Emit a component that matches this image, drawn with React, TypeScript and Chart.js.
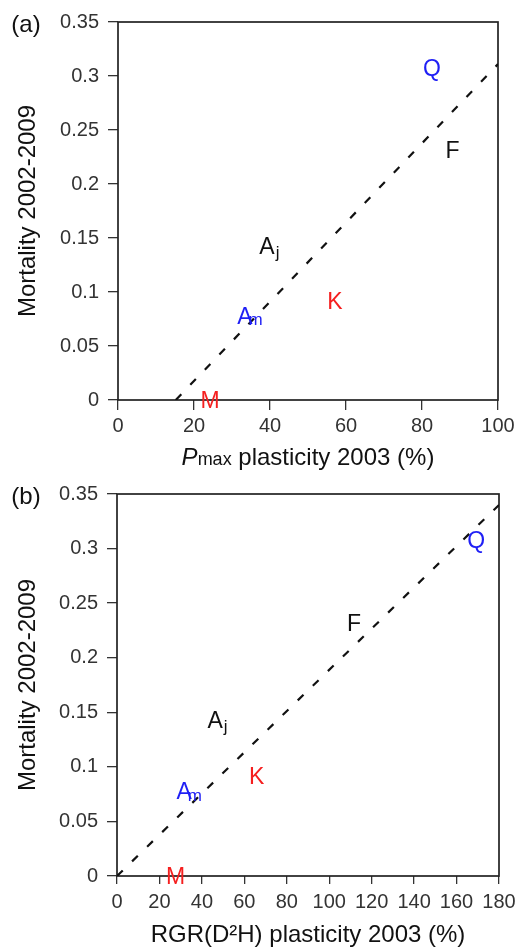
import React, { useEffect, useRef } from 'react';
import { Chart, registerables } from 'chart.js';

Chart.register(...registerables);

// ---- data ----
const speciesLabels = ['Q', 'F', 'Aj', 'Am', 'K', 'M'];
const speciesColors = ['#1f1ff5', '#111111', '#111111', '#1f1ff5', '#f51f1f', '#f51f1f'];
const mortality = [0.308, 0.232, 0.143, 0.078, 0.092, 0.0];
const pmaxPlasticity = [82.6, 88.0, 39.2, 33.4, 57.1, 24.2];
const rgrPlasticity = [169.2, 111.7, 46.2, 31.6, 65.8, 27.6];
const pmaxFitX = [15.2, 100];
const pmaxFitY = [0, 0.311];
const rgrFitX = [0, 180];
const rgrFitY = [0, 0.34];
const yTicks = [0, 0.05, 0.1, 0.15, 0.2, 0.25, 0.3, 0.35];
const pmaxTicks = [0, 20, 40, 60, 80, 100];
const rgrTicks = [0, 20, 40, 60, 80, 100, 120, 140, 160, 180];
const yTitle = 'Mortality 2002-2009';
const rgrTitle = 'RGR(D\u00B2H) plasticity 2003 (%)';
const pmaxTitleParts = ['P', 'max', ' plasticity 2003 (%)'];
const panelLetters = ['(a)', '(b)'];

const FONT = '"Liberation Sans", Arial, Helvetica, sans-serif';

type PanelCfg = {
  xValues: number[];
  fitX: number[];
  fitY: number[];
  xTicks: number[];
  xMax: number;
  letter: string;
  yWidth: number;
  xHeight: number;
  padTop: number;
  padRight: number;
  xTickLen: number;
  xTickPad: number;
  xTitle: string | null;
};

function drawLabel(ctx: CanvasRenderingContext2D, text: string, x: number, y: number, color: string) {
  const main = text[0];
  const sub = text.slice(1);
  ctx.fillStyle = color;
  ctx.textBaseline = 'alphabetic';
  ctx.font = `23px ${FONT}`;
  const w = ctx.measureText(main).width;
  const base = y + 8.2;
  if (!sub) {
    ctx.textAlign = 'center';
    ctx.fillText(main, x, base);
    return;
  }
  ctx.textAlign = 'left';
  ctx.fillText(main, x - w / 2, base);
  ctx.font = `17px ${FONT}`;
  if (sub === 'j') ctx.fillText(sub, x + w / 2 + 1, base + 4);
  else ctx.fillText(sub, x + w / 2 - 4, base + 1.5);
}

function makeConfig(cfg: PanelCfg): any {
  const points = cfg.xValues.map((x, i) => ({ x, y: mortality[i] }));
  const fit = cfg.fitX.map((x, i) => ({ x, y: cfg.fitY[i] }));

  const decorPlugin = {
    id: 'decor',
    beforeDatasetsDraw(chart: any) {
      const { ctx, chartArea } = chart;
      ctx.save();
      ctx.strokeStyle = '#222';
      ctx.lineWidth = 1.7;
      ctx.strokeRect(chartArea.left, chartArea.top, chartArea.right - chartArea.left, chartArea.bottom - chartArea.top);
      ctx.restore();
    },
    afterDatasetsDraw(chart: any) {
      const { ctx } = chart;
      const meta = chart.getDatasetMeta(0);
      ctx.save();
      meta.data.forEach((el: any, i: number) => {
        drawLabel(ctx, speciesLabels[i], el.x, el.y, speciesColors[i]);
      });
      ctx.restore();
    },
    afterDraw(chart: any) {
      const { ctx, chartArea } = chart;
      ctx.save();
      ctx.fillStyle = '#111';
      ctx.font = `24px ${FONT}`;
      ctx.textAlign = 'center';
      ctx.textBaseline = 'middle';
      ctx.fillText(cfg.letter, 26, chartArea.top + 3);
      if (!cfg.xTitle) {
        // Pmax title with italic P and small "max"
        const fonts = [`italic 24px ${FONT}`, `18px ${FONT}`, `24px ${FONT}`];
        const widths = pmaxTitleParts.map((t, i) => {
          ctx.font = fonts[i];
          return ctx.measureText(t).width;
        });
        const total = widths.reduce((a, b) => a + b, 0);
        let x = (chartArea.left + chartArea.right) / 2 - total / 2;
        const base = chart.height - 5;
        ctx.textAlign = 'left';
        ctx.textBaseline = 'alphabetic';
        pmaxTitleParts.forEach((t, i) => {
          ctx.font = fonts[i];
          ctx.fillText(t, x, base);
          x += widths[i];
        });
      }
      ctx.restore();
    },
  };

  return {
    type: 'scatter',
    data: {
      datasets: [
        {
          data: points,
          pointRadius: 0,
          pointHoverRadius: 0,
          showLine: false,
        },
        {
          data: fit,
          showLine: true,
          borderColor: '#111',
          borderWidth: 2.2,
          borderDash: [8, 13],
          pointRadius: 0,
          pointHoverRadius: 0,
          fill: false,
        },
      ],
    },
    options: {
      responsive: false,
      maintainAspectRatio: false,
      animation: false,
      devicePixelRatio: 1,
      events: [],
      layout: { padding: { top: cfg.padTop, right: cfg.padRight, left: 0, bottom: 0 } },
      plugins: { legend: { display: false }, tooltip: { enabled: false } },
      scales: {
        x: {
          type: 'linear',
          min: 0,
          max: cfg.xMax,
          afterBuildTicks: (s: any) => {
            s.ticks = cfg.xTicks.map((v) => ({ value: v }));
          },
          afterFit: (s: any) => {
            s.height = cfg.xHeight;
            s.paddingLeft = 0;
            s.paddingRight = 0;
          },
          ticks: {
            autoSkip: false,
            maxRotation: 0,
            minRotation: 0,
            padding: cfg.xTickPad,
            color: '#333',
            font: { family: FONT, size: 20 },
            callback: (v: any) => String(v),
          },
          grid: {
            drawOnChartArea: false,
            drawTicks: true,
            tickLength: cfg.xTickLen,
            color: '#333',
            lineWidth: 1.3,
          },
          border: { display: false },
          title: {
            display: !!cfg.xTitle,
            text: cfg.xTitle || '',
            color: '#111',
            font: { family: FONT, size: 24, lineHeight: 1 },
            padding: { top: 0, bottom: 1 },
          },
        },
        y: {
          type: 'linear',
          min: 0,
          max: 0.35,
          afterBuildTicks: (s: any) => {
            s.ticks = yTicks.map((v) => ({ value: v }));
          },
          afterFit: (s: any) => {
            s.width = cfg.yWidth;
            s.paddingTop = 0;
            s.paddingBottom = 0;
          },
          ticks: {
            autoSkip: false,
            padding: 9,
            color: '#333',
            font: { family: FONT, size: 20 },
            callback: (v: any) => String(v),
          },
          grid: {
            drawOnChartArea: false,
            drawTicks: true,
            tickLength: 10,
            color: '#333',
            lineWidth: 1.3,
          },
          border: { display: false },
          title: {
            display: true,
            text: yTitle,
            color: '#111',
            font: { family: FONT, size: 24, lineHeight: 1 },
            padding: { top: 16, bottom: 0 },
          },
        },
      },
    },
    plugins: [decorPlugin],
  };
}

function Panel({ cfg, height }: { cfg: PanelCfg; height: number }) {
  const ref = useRef<HTMLCanvasElement | null>(null);
  useEffect(() => {
    if (!ref.current) return;
    const chart = new Chart(ref.current, makeConfig(cfg));
    return () => chart.destroy();
  }, []);
  return <canvas ref={ref} width={520} height={height} style={{ display: 'block', width: 520, height }} />;
}

const panelA: PanelCfg = {
  xValues: pmaxPlasticity,
  fitX: pmaxFitX,
  fitY: pmaxFitY,
  xTicks: pmaxTicks,
  xMax: 100,
  letter: panelLetters[0],
  yWidth: 118,
  xHeight: 70,
  padTop: 22,
  padRight: 22,
  xTickLen: 10,
  xTickPad: 4,
  xTitle: null,
};

const panelB: PanelCfg = {
  xValues: rgrPlasticity,
  fitX: rgrFitX,
  fitY: rgrFitY,
  xTicks: rgrTicks,
  xMax: 180,
  letter: panelLetters[1],
  yWidth: 117,
  xHeight: 72,
  padTop: 24,
  padRight: 21,
  xTickLen: 8,
  xTickPad: 6,
  xTitle: rgrTitle,
};

export default function App() {
  return (
    <div style={{ position: 'absolute', left: 0, top: 0, width: 520, height: 948, background: '#fff' }}>
      <Panel cfg={panelA} height={470} />
      <Panel cfg={panelB} height={478} />
    </div>
  );
}
